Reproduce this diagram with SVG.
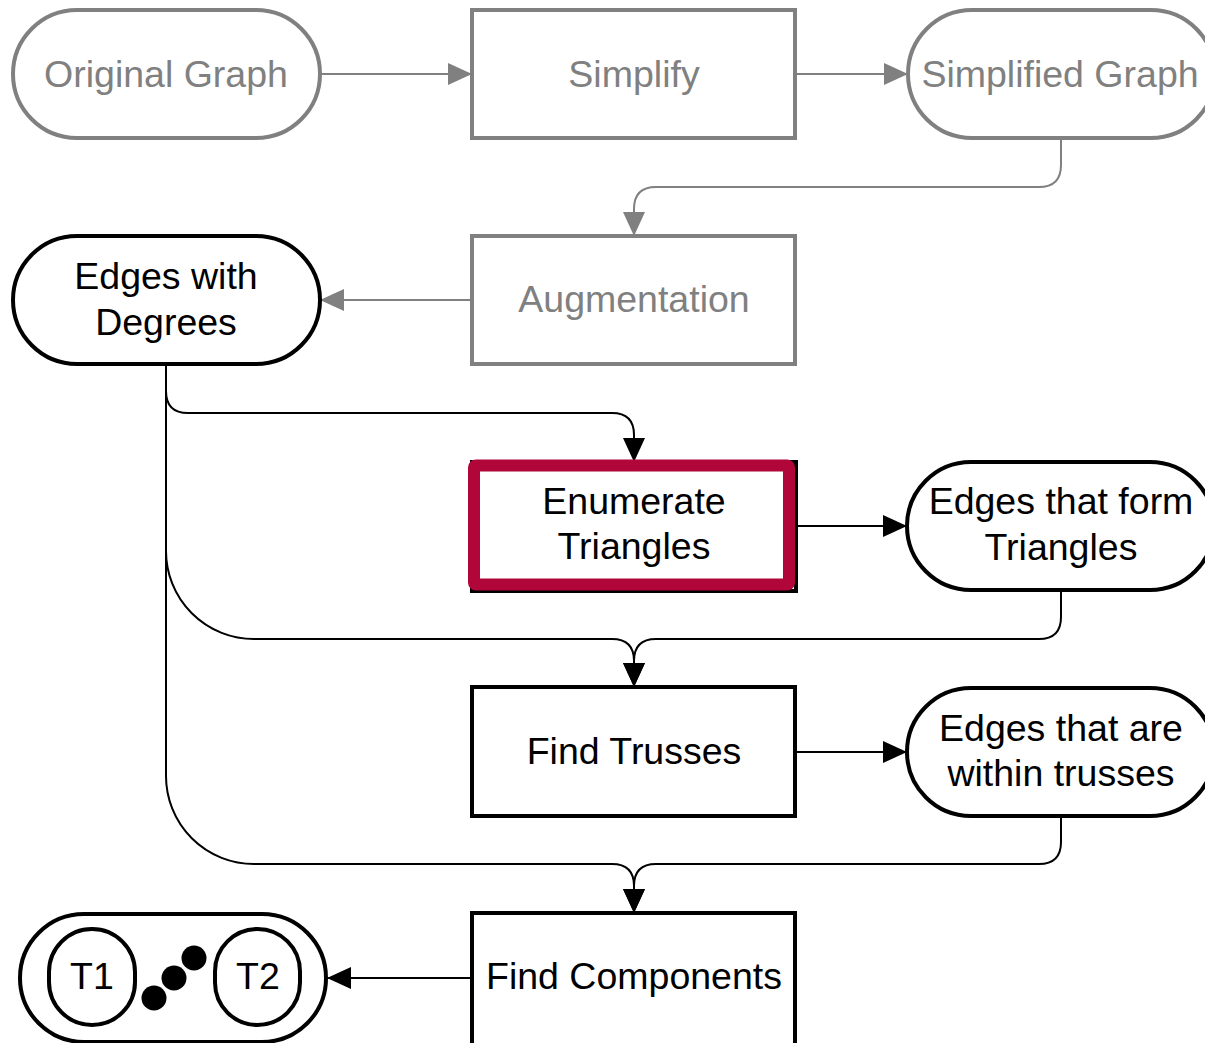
<svg xmlns="http://www.w3.org/2000/svg" width="1205" height="1043" viewBox="0 0 1205 1043">
  <style>
    text { font-family: "Liberation Sans", Arial, sans-serif; font-size: 37.5px; text-anchor: middle; }
    .g-shape { fill: #fff; stroke: #808080; stroke-width: 4; }
    .b-shape { fill: #fff; stroke: #000; stroke-width: 4; }
    .g-text { fill: #808080; }
    .b-text { fill: #000; }
    .g-line { fill: none; stroke: #808080; stroke-width: 2; }
    .b-line { fill: none; stroke: #000; stroke-width: 2; }
  </style>
  <defs>
    <marker id="arrow-gray" markerUnits="userSpaceOnUse" markerWidth="24" markerHeight="22" refX="24" refY="11" orient="auto">
      <path d="M0,0 L24,11 L0,22 z" fill="#808080"/>
    </marker>
    <marker id="arrow-black" markerUnits="userSpaceOnUse" markerWidth="24" markerHeight="22" refX="24" refY="11" orient="auto">
      <path d="M0,0 L24,11 L0,22 z" fill="#000"/>
    </marker>
  </defs>
  <rect width="1205" height="1043" fill="#fff"/>

  <!-- connectors -->
  <g id="connectors">
    <path class="g-line" d="M320,74 H472" marker-end="url(#arrow-gray)"/>
    <path class="g-line" d="M795,74 H908" marker-end="url(#arrow-gray)"/>
    <path class="g-line" d="M1061,138 V165 Q1061,187 1039,187 H656 Q634,187 634,209 V236" marker-end="url(#arrow-gray)"/>
    <path class="g-line" d="M472,300 H320" marker-end="url(#arrow-gray)"/>
    <path class="b-line" d="M166,365 V391 Q166,413 188,413 H612 Q634,413 634,435 V462" marker-end="url(#arrow-black)"/>
    <path class="b-line" d="M796,526 H907" marker-end="url(#arrow-black)"/>
    <path class="b-line" d="M1061,590 V617 Q1061,639 1039,639 H656 Q634,639 634,661 V687" marker-end="url(#arrow-black)"/>
    <path class="b-line" d="M166,365 V551 A88,88 0 0 0 254,639 H612 Q634,639 634,661 V687" marker-end="url(#arrow-black)"/>
    <path class="b-line" d="M796,752 H907" marker-end="url(#arrow-black)"/>
    <path class="b-line" d="M1061,816 V842 Q1061,864 1039,864 H656 Q634,864 634,886 V913" marker-end="url(#arrow-black)"/>
    <path class="b-line" d="M166,551 V776 A88,88 0 0 0 254,864 H612 Q634,864 634,886 V913" marker-end="url(#arrow-black)"/>
    <path class="b-line" d="M472,978 H327" marker-end="url(#arrow-black)"/>
  </g>

  <!-- nodes -->
  <g id="original-graph">
    <rect class="g-shape" x="13" y="10" width="307" height="128" rx="64"/>
    <text class="g-text" x="166" y="87">Original Graph</text>
  </g>
  <g id="simplify">
    <rect class="g-shape" x="472" y="10" width="323" height="128"/>
    <text class="g-text" x="634" y="87">Simplify</text>
  </g>
  <g id="simplified-graph">
    <rect class="g-shape" x="908" y="10" width="307" height="128" rx="64"/>
    <text class="g-text" x="1060" y="87">Simplified Graph</text>
  </g>
  <g id="augmentation">
    <rect class="g-shape" x="472" y="236" width="323" height="128"/>
    <text class="g-text" x="634" y="312">Augmentation</text>
  </g>
  <g id="edges-with-degrees">
    <rect class="b-shape" x="13" y="236" width="307" height="128" rx="64"/>
    <text class="b-text" x="166" y="289">Edges with</text>
    <text class="b-text" x="166" y="335">Degrees</text>
  </g>
  <g id="enumerate-triangles">
    <rect class="b-shape" x="472" y="462" width="324" height="129"/>
    <rect x="474" y="465.5" width="315" height="119" rx="2" fill="#fff" stroke="#B0063A" stroke-width="12"/>
    <text class="b-text" x="634" y="514">Enumerate</text>
    <text class="b-text" x="634" y="559">Triangles</text>
  </g>
  <g id="edges-form-triangles">
    <rect class="b-shape" x="907" y="462" width="307" height="128" rx="64"/>
    <text class="b-text" x="1061" y="514">Edges that form</text>
    <text class="b-text" x="1061" y="560">Triangles</text>
  </g>
  <g id="find-trusses">
    <rect class="b-shape" x="472" y="687" width="323" height="129"/>
    <text class="b-text" x="634" y="764">Find Trusses</text>
  </g>
  <g id="edges-within-trusses">
    <rect class="b-shape" x="907" y="688" width="307" height="128" rx="64"/>
    <text class="b-text" x="1061" y="741">Edges that are</text>
    <text class="b-text" x="1061" y="786">within trusses</text>
  </g>
  <g id="find-components">
    <rect class="b-shape" x="472" y="913" width="323" height="140"/>
    <text class="b-text" x="634" y="989">Find Components</text>
  </g>
  <g id="components">
    <rect class="b-shape" x="20" y="914" width="306" height="128" rx="64"/>
    <rect class="b-shape" x="49" y="929" width="86" height="96" rx="43"/>
    <text class="b-text" x="92" y="989">T1</text>
    <rect class="b-shape" x="215" y="929" width="85" height="96" rx="42.5"/>
    <text class="b-text" x="258" y="989">T2</text>
    <circle cx="154" cy="998" r="12.5" fill="#000"/>
    <circle cx="174" cy="978" r="12.5" fill="#000"/>
    <circle cx="194" cy="958" r="12.5" fill="#000"/>
  </g>
</svg>
